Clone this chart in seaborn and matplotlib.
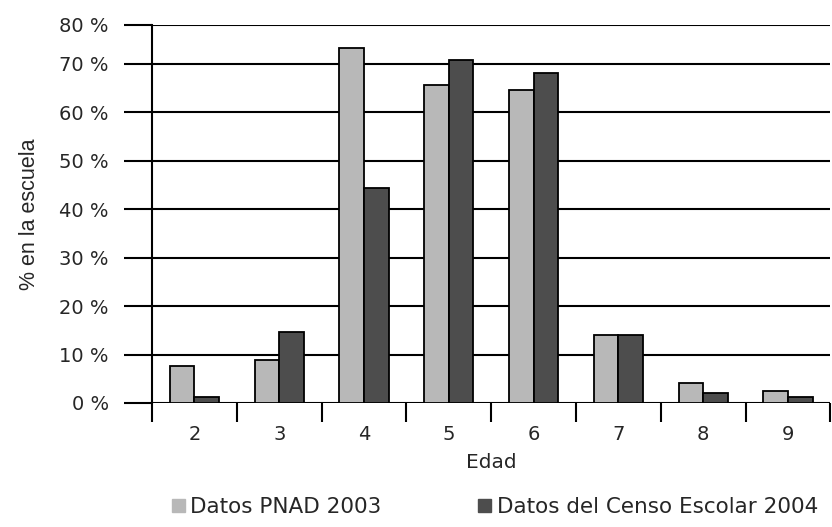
import pandas as pd
import numpy as np
import matplotlib
matplotlib.use("Agg")
import matplotlib.pyplot as plt
import seaborn as sns

# datos
edades = ["2", "3", "4", "5", "6", "7", "8", "9"]
pnad_2003 = [7.7, 8.9, 73.2, 65.6, 64.5, 14.0, 4.2, 2.5]
censo_2004 = [1.3, 14.6, 44.3, 70.7, 68.0, 14.0, 2.0, 1.3]
series = ["Datos PNAD 2003", "Datos del Censo Escolar 2004"]
colores = ["#b8b8b8", "#4d4d4d"]

# marcas del eje y (el original tiene la linea de 80 % algo mas baja)
yticks = [0, 10, 20, 30, 40, 50, 60, 70, 78]
ylabels = ["0 %", "10 %", "20 %", "30 %", "40 %", "50 %", "60 %", "70 %", "80 %"]

datos = pd.DataFrame({
    "Edad": edades * 2,
    "valor": pnad_2003 + censo_2004,
    "serie": [series[0]] * len(edades) + [series[1]] * len(edades),
})

sns.set_style("white")
plt.rcParams["font.family"] = ["DejaVu Sans"]

fig = plt.figure(figsize=(8.32, 5.27), dpi=100)
ax = fig.add_axes([152 / 832, 1 - 403 / 527, 1 - 152 / 832 - 0.002, (403 - 25) / 527])

sns.barplot(data=datos, x="Edad", y="valor", hue="serie", palette=colores,
            width=0.58, edgecolor="black", linewidth=1.3, saturation=1,
            legend=False, ax=ax)

ax.set_ylim(0, 78)
ax.set_xlim(-0.5, len(edades) - 0.5)

# lineas horizontales
for y in yticks:
    ax.axhline(y, color="black", lw=1.5, zorder=0)
ax.set_yticks(yticks)
ax.set_yticklabels(ylabels, fontsize=14)
ax.tick_params(axis="y", left=True, direction="out", length=20, width=1.5, pad=11, color="black")

# separadores de categorias como marcas menores
ax.set_xticks(np.arange(len(edades)))
ax.set_xticklabels(edades, fontsize=14)
ax.set_xticks(np.arange(len(edades) + 1) - 0.5, minor=True)
ax.tick_params(axis="x", which="major", bottom=False, length=0, pad=16)
ax.tick_params(axis="x", which="minor", bottom=True, direction="out", length=14, width=1.5, color="black")

for lado in ["top", "right", "bottom"]:
    ax.spines[lado].set_visible(False)
ax.spines["left"].set_linewidth(1.5)
ax.spines["left"].set_color("black")

ax.set_xlabel("Edad", fontsize=14.5, labelpad=6)
ax.set_ylabel("% en la escuela", fontsize=15.5, family="Liberation Sans", labelpad=14)

handles = [plt.Rectangle((0, 0), 1, 1, color=c) for c in colores]
fig.legend(handles, series, loc="center", bbox_to_anchor=(0.595, 0.038), ncol=2,
           frameon=False, fontsize=15.5, handlelength=0.6, handleheight=0.6,
           handletextpad=0.25, columnspacing=4.5)

plt.savefig("out.png", dpi=100)
plt.close()
